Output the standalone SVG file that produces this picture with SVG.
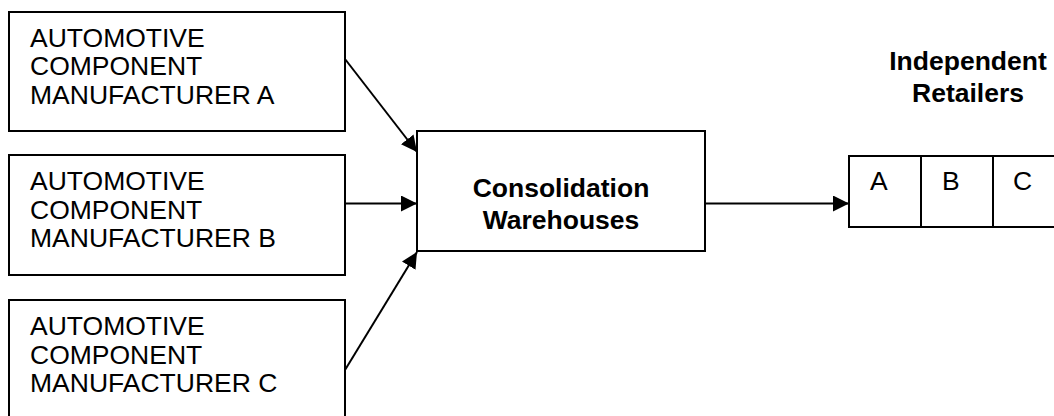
<svg xmlns="http://www.w3.org/2000/svg" width="1054" height="416" viewBox="0 0 1054 416">
<defs>
<style>
.box{fill:#fff;stroke:#000;stroke-width:2}
.t{font-family:"Liberation Sans",Arial,sans-serif;font-size:26.5px;fill:#000}
.b{font-family:"Liberation Sans",Arial,sans-serif;font-size:26.5px;font-weight:bold;fill:#000;text-anchor:middle}
.c{stroke:#000;stroke-width:2;fill:none;marker-end:url(#ah)}
</style>
<marker id="ah" markerWidth="16" markerHeight="16" viewBox="0 0 16 16" refX="16" refY="8" orient="auto" markerUnits="userSpaceOnUse">
<path d="M0,0 L16,8 L0,16 Z" fill="#000"/>
</marker>
</defs>
<rect width="1054" height="416" fill="#fff"/>
<g id="mfrA">
<rect class="box" x="9" y="12" width="336" height="119"/>
<text class="t" x="30" y="46.5">AUTOMOTIVE</text>
<text class="t" x="30" y="75">COMPONENT</text>
<text class="t" x="30" y="103.5">MANUFACTURER A</text>
</g>
<g id="mfrB">
<rect class="box" x="9" y="155" width="336" height="120"/>
<text class="t" x="30" y="190">AUTOMOTIVE</text>
<text class="t" x="30" y="218.5">COMPONENT</text>
<text class="t" x="30" y="247">MANUFACTURER B</text>
</g>
<g id="mfrC">
<rect class="box" x="9" y="300" width="336" height="120"/>
<text class="t" x="30" y="335">AUTOMOTIVE</text>
<text class="t" x="30" y="363.5">COMPONENT</text>
<text class="t" x="30" y="392">MANUFACTURER C</text>
</g>
<g id="warehouse">
<rect class="box" x="417" y="131" width="288" height="120"/>
<text class="b" x="561" y="197">Consolidation</text>
<text class="b" x="561" y="229">Warehouses</text>
</g>
<g id="retailers-label">
<text class="b" x="968" y="70">Independent</text>
<text class="b" x="968" y="102">Retailers</text>
</g>
<g id="retailers">
<rect class="box" x="849" y="156" width="72" height="71"/>
<rect class="box" x="921" y="156" width="72" height="71"/>
<rect class="box" x="993" y="156" width="72" height="71"/>
<text class="t" x="870" y="190">A</text>
<text class="t" x="942" y="190">B</text>
<text class="t" x="1013" y="190">C</text>
</g>
<g id="connectors">
<line class="c" x1="345" y1="59" x2="417" y2="152"/>
<line class="c" x1="345" y1="203.5" x2="417" y2="203.5"/>
<line class="c" x1="345" y1="370" x2="417" y2="252"/>
<line class="c" x1="705" y1="203.5" x2="849" y2="203.5"/>
</g>
</svg>
